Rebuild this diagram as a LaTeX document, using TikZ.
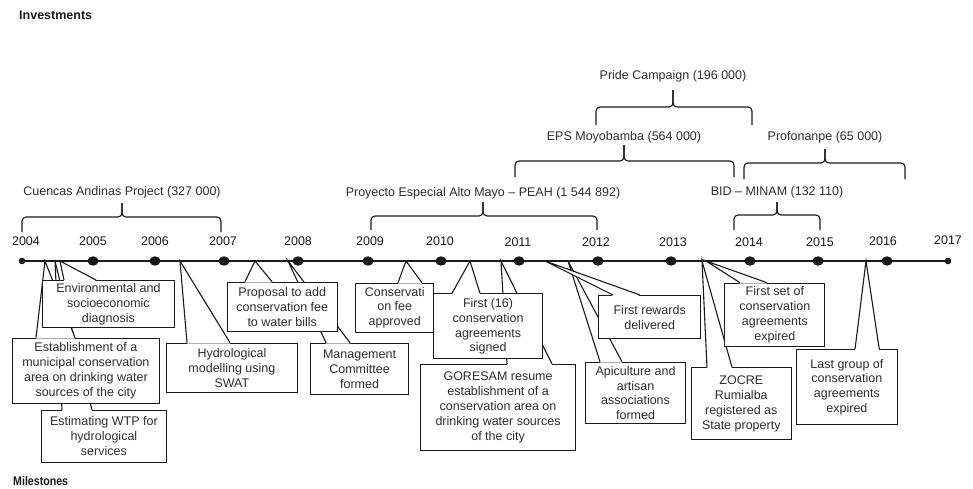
\documentclass[tikz,border=0pt]{standalone}
\usepackage{fontspec}
\setmainfont{Liberation Sans}
\usetikzlibrary{calc}
\definecolor{ink}{RGB}{25,25,25}
\definecolor{txt}{RGB}{45,45,45}
\tikzset{
  box/.style={draw=ink, line width=1.1pt, fill=white, inner sep=0pt, align=center,
    font=\fontsize{12.5}{14.9}\selectfont, text=txt, anchor=north west},
  lbl/.style={font=\fontsize{12.5}{15}\selectfont, text=txt, text height=9pt, text depth=0pt, inner sep=0pt},
  yr/.style={font=\fontsize{12.5}{15}\selectfont, text=ink, text height=9pt, text depth=0pt, inner sep=0pt},
  brk/.style={draw=ink, line width=1.1pt, rounded corners=4pt},
  wedgeline/.style={draw=ink, line width=1.1pt, line join=miter},
  head/.style={font=\bfseries\fontsize{12.5}{15}\selectfont, text=ink, anchor=west, inner sep=0pt, text height=9pt, text depth=0pt}
}
% callout: name, x, y, w, h, text, tip x, base-left offset, base-right offset
\newcommand\mycallout[9]{%
  \coordinate (t#1) at (#7,261);
  \node[box, minimum width=#4pt, minimum height=#5pt] (#1) at (#2,#3) {#6};
  \fill[white] ([xshift=#8pt, yshift=-0.9pt]#1.north west) -- (t#1) -- ([xshift=#9pt, yshift=-0.9pt]#1.north west) -- cycle;
  \draw[wedgeline] ([xshift=#8pt]#1.north west) -- (t#1) -- ([xshift=#9pt]#1.north west);
}
% bracket: name, x1, x2, xm, ybottom, yline, ytip, label y, label
\newcommand\mybracket[9]{%
  \coordinate (#1l) at (#2,#5);
  \coordinate (#1r) at (#3,#5);
  \coordinate (#1t) at (#4,#7);
  \draw[brk] (#1l) |- (#4,#6) -- (#1t);
  \draw[brk] (#1r) |- (#4,#6) -- (#1t);
  \node[lbl] (#1lab) at (#4,#8) {#9};
}
\begin{document}
\begin{tikzpicture}[x=1pt,y=-1pt]
\useasboundingbox[fill=white] (0,0) rectangle (973,488);

\node[head] (inv) at (19,15) {Investments};
\node[head] (mil) at (13,480.5) {\scalebox{0.85}[1]{Milestones}};

% brackets
\mybracket{bca}{22}{221}{122}{232}{217}{203}{191}{Cuencas Andinas Project (327 000)}
\mybracket{bpe}{371}{597}{483}{230}{216}{202}{191.5}{Proyecto Especial Alto Mayo -- PEAH (1 544 892)}
\mybracket{bep}{515}{734}{624}{177}{161}{145}{136}{EPS Moyobamba (564 000)}
\mybracket{bpr}{596}{752}{673}{125}{107}{90}{75}{Pride Campaign (196 000)}
\mybracket{bpf}{744}{905}{825}{179}{163}{149}{136}{Profonanpe (65 000)}
\mybracket{bbi}{734}{820}{777}{230}{215}{202}{191}{BID -- MINAM (132 110)}

% years
\node[yr] (y2004) at (26,241) {2004};
\node[yr] (y2005) at (93,241) {2005};
\node[yr] (y2006) at (155,241) {2006};
\node[yr] (y2007) at (223,241) {2007};
\node[yr] (y2008) at (298,241) {2008};
\node[yr] (y2009) at (370,241) {2009};
\node[yr] (y2010) at (440,241) {2010};
\node[yr] (y2011) at (518,242) {2011};
\node[yr] (y2012) at (596,242) {2012};
\node[yr] (y2013) at (673,242) {2013};
\node[yr] (y2014) at (749,242) {2014};
\node[yr] (y2015) at (820,242) {2015};
\node[yr] (y2016) at (883,241) {2016};
\node[yr] (y2017) at (948,240) {2017};

% callouts (order chosen so hidden lines pass behind boxes)
\mycallout{wtp}{40.7}{410}{125.3}{51.7}{Estimating WTP for\\hydrological\\services}{55}{21.3}{51.3}
\mycallout{est}{11.7}{337.7}{147.3}{65.3}{Establishment of a\\municipal conservation\\area on drinking water\\sources of the city}{45}{24.3}{63.3}
\mycallout{env}{41.7}{280}{132.3}{46.7}{Environmental and\\socioeconomic\\diagnosis}{60}{22.3}{54.3}
\mycallout{hyd}{166}{342.7}{130.7}{49}{Hydrological\\modelling using\\SWAT}{180}{21}{64}
\mycallout{man}{310}{342.7}{98}{51.3}{Management\\Committee\\formed}{288}{16}{40}
\mycallout{pro}{226.7}{281.7}{110}{49.3}{Proposal to add\\conservation fee\\to water bills}{255}{18.3}{45.3}
\mycallout{cfa}{355}{282.7}{78.3}{49}{Conservati\\on fee\\approved}{406}{43}{67}
\mycallout{gor}{420}{364}{155}{86}{GORESAM resume\\establishment of a\\conservation area on\\drinking water sources\\of the city}{501}{87}{132}
\mycallout{fst}{433.3}{293.3}{108.4}{65}{First (16)\\conservation\\agreements\\signed}{470}{18.7}{46.7}
\mycallout{api}{585}{361.7}{100}{61.6}{Apiculture and\\artisan\\associations\\formed}{568}{15}{37}
\mycallout{frw}{598.3}{295}{101.7}{43.3}{First rewards\\delivered}{545}{14.7}{41.7}
\mycallout{zoc}{690.7}{367.3}{100}{72}{ZOCRE\\Rumialba\\registered as\\State property}{702}{16.3}{41.3}
\mycallout{fse}{724.3}{282.7}{100}{63.3}{First set of\\conservation\\agreements\\expired}{706}{15.7}{42.7}
\mycallout{lgr}{796}{349.3}{100.7}{74.7}{Last group of\\conservation\\agreements\\expired}{866}{59}{83.3}

% timeline
\coordinate (tl0) at (22,261);
\coordinate (tl1) at (948,261);
\draw[ink, line width=2pt] (tl0) -- (tl1);
\fill[ink] (tl0) circle (3.3pt);
\fill[ink] (tl1) circle (3.3pt);
\foreach \x in {93,155,224,298,368,441,519,598,671,750,818,887}
  \fill[ink] (\x,261) ellipse [x radius=5.6pt, y radius=4.7pt];
\end{tikzpicture}
\end{document}
